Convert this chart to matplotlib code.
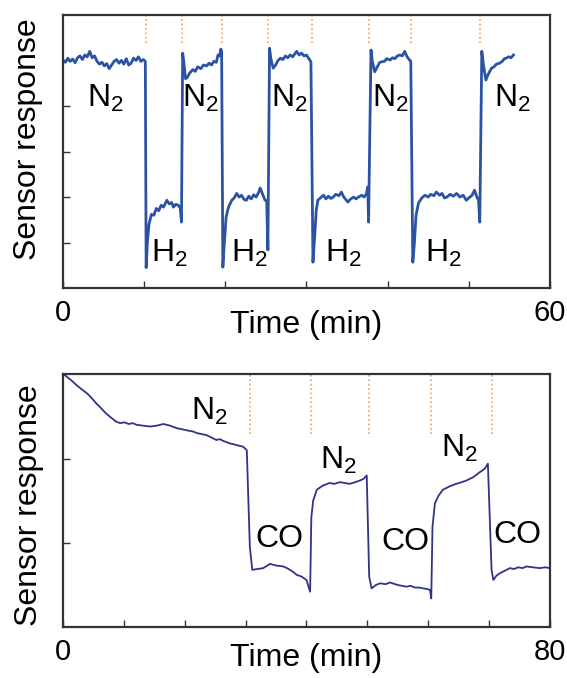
import matplotlib
matplotlib.use('Agg')
import matplotlib.pyplot as plt

plt.rcParams['font.family'] = ['Liberation Sans', 'DejaVu Sans']
plt.rcParams['mathtext.fontset'] = 'custom'
plt.rcParams['mathtext.rm'] = 'Liberation Sans'
plt.rcParams['mathtext.it'] = 'Liberation Sans:italic'

# ---- top panel: N2 / H2 cycling (time in min, response in arb. units)
h2_time = [
    0.0, 0.3, 0.6, 0.9, 1.2, 1.5, 1.8, 2.1, 2.4, 2.7, 3.0, 3.3, 3.6, 3.9, 4.2, 4.5, 4.8,
    5.1, 5.4, 5.7, 6.0, 6.3, 6.6, 6.9, 7.2, 7.5, 7.8, 8.1, 8.4, 8.7, 9.0, 9.3, 9.6, 9.9, 10.15,
    10.25, 10.4, 10.6, 10.9, 11.2, 11.5, 11.8, 12.1, 12.4, 12.8, 13.1, 13.4, 13.6, 13.9, 14.2, 14.45, 14.6,
    14.75, 14.9, 15.1, 15.3, 15.6, 16.0, 16.3, 16.6, 17.0, 17.3, 17.7, 18.0, 18.3, 18.6, 18.9, 19.1, 19.3, 19.45, 19.55,
    19.7, 19.85, 20.1, 20.4, 20.8, 21.1, 21.4, 21.7, 22.0, 22.3, 22.6, 22.9, 23.2, 23.5, 23.8, 24.1, 24.3, 24.6, 24.9, 25.1, 25.25,
    25.45, 25.6, 25.9, 26.2, 26.5, 26.8, 27.1, 27.4, 27.7, 28.0, 28.3, 28.6, 28.8, 29.1, 29.4, 29.7, 30.0, 30.3, 30.55,
    30.8, 31.0, 31.2, 31.4, 31.7, 32.1, 32.4, 32.7, 33.0, 33.3, 33.6, 34.0, 34.3, 34.6, 35.1, 35.4, 35.8, 36.1, 36.4, 36.8, 37.1, 37.4, 37.55, 37.65,
    37.95, 38.1, 38.4, 38.7, 39.0, 39.2, 39.6, 39.9, 40.3, 40.6, 40.9, 41.2, 41.5, 41.8, 42.1, 42.4, 42.7, 42.85,
    43.1, 43.3, 43.5, 43.8, 44.2, 44.6, 45.0, 45.3, 45.7, 46.0, 46.4, 46.7, 47.0, 47.3, 47.7, 48.1, 48.5, 48.9, 49.3, 49.7, 50.0, 50.4, 50.7, 51.0, 51.2, 51.35,
    51.6, 51.8, 52.1, 52.4, 52.8, 53.1, 53.4, 53.8, 54.1, 54.4, 54.6, 54.9, 55.2, 55.5,
]
h2_response = [
    5.0, 4.96, 5.05, 4.98, 5.03, 4.95, 5.06, 5.1, 5.02, 5.12, 5.08, 5.2, 5.06, 5.1, 4.98, 4.92, 4.96,
    4.88, 4.93, 4.82, 4.9, 4.98, 5.02, 4.94, 5.0, 4.92, 5.04, 4.9, 4.94, 5.05, 5.0, 5.08, 4.98, 5.02, 4.98,
    0.45, 1.0, 1.4, 1.62, 1.6, 1.75, 1.7, 1.82, 1.78, 1.93, 1.85, 1.88, 1.78, 1.84, 1.82, 1.76, 1.45,
    5.16, 4.95, 4.6, 4.62, 4.72, 4.8, 4.76, 4.86, 4.82, 4.9, 4.88, 4.94, 4.9, 4.98, 4.96, 5.12, 5.1, 5.25, 5.2,
    0.46, 0.9, 1.56, 1.78, 1.93, 1.98, 2.08, 2.0, 2.04, 1.95, 1.93, 2.02, 1.96, 2.05, 2.0, 2.1, 2.2, 2.06, 1.93, 1.92, 0.84,
    5.27, 5.05, 4.83, 4.9, 5.0, 5.05, 5.02, 5.1, 5.06, 5.12, 5.08, 5.15, 5.2, 5.12, 5.16, 5.1, 5.12, 5.04, 4.97,
    0.57, 1.1, 1.7, 1.93, 1.98, 2.04, 1.96, 2.02, 1.97, 2.0, 2.06, 2.03, 2.11, 2.0, 1.89, 1.95, 2.0, 1.96, 2.0, 2.04, 2.0, 2.08, 2.22, 1.45,
    5.23, 5.0, 4.75, 4.85, 4.95, 4.97, 4.98, 5.04, 5.01, 5.06, 5.04, 5.1, 5.12, 5.1, 5.2, 5.08, 5.01, 4.98,
    0.57, 1.0, 1.6, 1.87, 1.98, 2.04, 2.0, 2.06, 2.03, 2.11, 2.04, 2.08, 1.98, 2.0, 2.06, 2.02, 2.08, 2.0, 2.04, 1.93, 1.98, 2.04, 2.15, 2.0, 1.93, 1.45,
    5.2, 4.9, 4.57, 4.7, 4.83, 4.86, 4.92, 4.94, 4.98, 5.04, 5.05, 5.08, 5.06, 5.12,
]
h2_switch = [10.2, 14.7, 19.6, 25.3, 30.7, 37.7, 42.9, 51.4]
h2_labels = ['N$_2$', 'H$_2$', 'N$_2$', 'H$_2$', 'N$_2$', 'H$_2$', 'N$_2$', 'H$_2$', 'N$_2$']
h2_label_t = [5.2, 13.1, 16.9, 23.0, 27.9, 34.5, 40.4, 46.9, 55.4]
h2_label_v = [4.16, 0.77, 4.16, 0.77, 4.16, 0.77, 4.16, 0.77, 4.16]

# ---- bottom panel: N2 / CO cycling
co_time = [
    0.0, 0.3, 1.0, 1.5, 2.4, 3.3, 4.0, 4.7, 5.4, 6.1, 7.0, 8.0, 8.7, 9.4, 10.1, 10.8, 11.5, 12.1, 13.2, 14.3,
    15.4, 16.5, 17.6, 18.7, 19.4, 20.0, 20.7, 21.4, 22.1, 22.8, 23.5, 24.1, 25.2, 25.8, 26.3, 27.4, 28.0, 28.5, 29.1, 29.6, 30.2,
    30.7, 31.1, 32.0, 32.9, 34.0, 35.1, 36.2, 36.8, 37.3, 37.9, 38.4, 39.2, 40.0, 40.6,
    40.8, 41.1, 41.7, 42.7, 43.8, 44.6, 45.5, 46.3, 47.1, 48.0, 48.8, 49.4, 49.9,
    50.3, 50.7, 51.4, 52.1, 53.0, 53.7, 55.0, 56.4, 57.1, 57.8, 58.5, 59.2, 60.0, 60.3, 60.5,
    60.7, 61.1, 61.7, 62.4, 63.5, 64.6, 65.5, 66.3, 67.4, 68.5, 69.3, 69.8,
    70.4, 70.7, 71.2, 71.8, 72.6, 73.4, 74.1, 74.8, 75.5, 76.1, 77.2, 78.3, 79.2, 80.0,
]
co_response = [
    3.0, 2.99, 2.95, 2.92, 2.86, 2.81, 2.77, 2.72, 2.66, 2.61, 2.54, 2.48, 2.44, 2.42, 2.43, 2.41, 2.42, 2.40, 2.39, 2.38,
    2.39, 2.41, 2.39, 2.36, 2.35, 2.34, 2.33, 2.32, 2.30, 2.29, 2.28, 2.26, 2.22, 2.23, 2.21, 2.18, 2.17, 2.16, 2.15, 2.14, 2.10,
    0.95, 0.68, 0.69, 0.70, 0.75, 0.73, 0.72, 0.70, 0.68, 0.65, 0.62, 0.60, 0.56, 0.42,
    1.30, 1.50, 1.63, 1.68, 1.71, 1.70, 1.72, 1.71, 1.70, 1.72, 1.74, 1.76, 1.80,
    0.60, 0.46, 0.50, 0.52, 0.51, 0.53, 0.50, 0.48, 0.49, 0.47, 0.47, 0.46, 0.45, 0.44, 0.34,
    1.19, 1.47, 1.56, 1.63, 1.67, 1.70, 1.72, 1.74, 1.78, 1.84, 1.88, 1.94,
    0.68, 0.56, 0.61, 0.64, 0.67, 0.70, 0.69, 0.71, 0.70, 0.72, 0.71, 0.70, 0.71, 0.70,
]
co_switch = [30.7, 40.7, 50.2, 60.4, 70.4]
co_labels = ['N$_2$', 'CO', 'N$_2$', 'CO', 'N$_2$', 'CO']
co_label_t = [24.1, 35.6, 45.2, 56.2, 65.2, 74.7]
co_label_v = [2.56, 1.04, 1.98, 1.01, 2.12, 1.09]

fig = plt.figure(figsize=(5.67, 6.78), dpi=100)
ax1 = fig.add_axes([0.111, 0.575, 0.859, 0.403])
ax2 = fig.add_axes([0.111, 0.075, 0.859, 0.373])

ax1.plot(h2_time, h2_response, color='#2b52a3', lw=2.0)
ax1.vlines(h2_switch, 5.38, 6.0, colors='#f0a060', linestyles=':', lw=1.2)
for lab, t, v in zip(h2_labels, h2_label_t, h2_label_v):
    ax1.text(t, v, lab, fontsize=23, ha='center', va='center')
ax1.set_xlim(0, 60)
ax1.set_ylim(0, 6)
ax1.set_xticks(range(0, 61, 10))
ax1.set_xticklabels(['0', '', '', '', '', '', '60'])
ax1.set_yticks([1, 2, 3, 4, 5])
ax1.set_yticklabels([])

ax2.plot(co_time, co_response, color='#2e3586', lw=1.3)
ax2.vlines(co_switch, 2.29, 3.0, colors='#f0a060', linestyles=':', lw=1.2)
for lab, t, v in zip(co_labels, co_label_t, co_label_v):
    ax2.text(t, v, lab, fontsize=23, ha='center', va='center')
ax2.set_xlim(0, 80)
ax2.set_ylim(0, 3)
ax2.set_xticks(range(0, 81, 10))
ax2.set_xticklabels(['0', '', '', '', '', '', '', '', '80'])
ax2.set_yticks([1, 2])
ax2.set_yticklabels([])

for ax, xly, yl in [(ax1, -0.135, (-0.071, 0.546)), (ax2, -0.122, (-0.069, 0.482))]:
    for s in ax.spines.values():
        s.set_linewidth(1.6)
        s.set_color('#333333')
    ax.tick_params(direction='in', length=5, width=1, color='#333333',
                   labelsize=21, pad=8)
    ax.set_xlabel('Time (min)', fontsize=23, va='center')
    ax.xaxis.set_label_coords(0.5, xly)
    ax.set_ylabel('Sensor response', fontsize=23, va='center', ha='center')
    ax.yaxis.set_label_coords(*yl)

fig.savefig('out.png', dpi=100)
